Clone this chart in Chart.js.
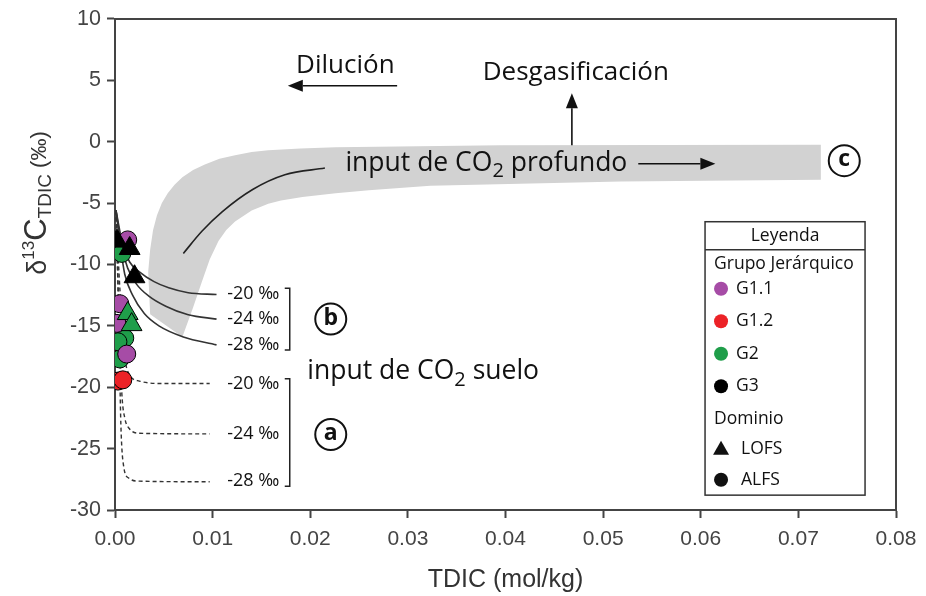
<!DOCTYPE html>
<html>
<head>
<meta charset="utf-8">
<script src="https://cdn.jsdelivr.net/npm/chart.js@4.4.0/dist/chart.umd.min.js"></script>
<style>
html,body{margin:0;padding:0;background:#fff;}
</style>
</head>
<body>
<canvas id="mycanvas" width="926" height="596"></canvas>
<script>
// samples, TDIC (mol/kg) vs d13C (permil)
var g11X = [0.0013, 0.0005, 0.0002, 0.0012];
var g11Y = [-8.0, -13.2, -14.8, -17.3];
var g12X = [0.0002, 0.0003, 0.0008];
var g12Y = [-16.8, -19.5, -19.4];
var g2X = [0.0007, 0.0010, 0.0005, 0.0003];
var g2Y = [-9.1, -16.0, -17.7, -16.3];
var g2TriX = [0.0013, 0.0017];
var g2TriY = [-14.0, -14.9];
var g3TriX = [0.0002, 0.0015, 0.0020];
var g3TriY = [-8.1, -8.7, -11.0];

// soil CO2 mixing curves (b, solid)
var b20X = [0.0001, 0.0008, 0.0015, 0.0025, 0.0040, 0.0055, 0.0075, 0.0104];
var b20Y = [-5.6, -8.4, -9.8, -10.6, -11.4, -11.9, -12.3, -12.45];
var b24X = [0.0001, 0.0007, 0.0013, 0.0022, 0.0035, 0.0052, 0.0075, 0.0104];
var b24Y = [-5.6, -8.6, -10.3, -11.6, -12.6, -13.4, -14.1, -14.45];
var b28X = [0.0001, 0.0006, 0.0010, 0.0018, 0.0030, 0.0045, 0.0070, 0.0104];
var b28Y = [-5.6, -8.8, -10.8, -12.5, -14.0, -15.0, -15.9, -16.55];
// soil CO2 curves (a, dashed)
var a20X = [0.0001, 0.0005, 0.0010, 0.0015, 0.0025, 0.0050, 0.0097];
var a20Y = [-5.6, -12.0, -17.5, -19.0, -19.5, -19.7, -19.7];
var a24X = [0.0001, 0.0004, 0.0007, 0.0010, 0.0015, 0.0025, 0.0097];
var a24Y = [-5.6, -14.0, -20.5, -22.5, -23.4, -23.75, -23.8];
var a28X = [0.0001, 0.0004, 0.0006, 0.0009, 0.0014, 0.0025, 0.0097];
var a28Y = [-5.6, -15.0, -23.0, -26.5, -27.4, -27.65, -27.7];

// deep CO2 band (outline) and its centre curve
var bandX = [0.0036, 0.0034, 0.0036, 0.0039, 0.0043, 0.0048, 0.0054, 0.0061, 0.0069, 0.0080, 0.0092, 0.0107,
             0.0123, 0.0140, 0.0157, 0.0190, 0.0226, 0.0395, 0.0723,
             0.0723, 0.0518, 0.0323, 0.0260, 0.0226, 0.0192, 0.0170, 0.0157, 0.0140, 0.0123, 0.0114,
             0.0106, 0.0097, 0.0089, 0.0080, 0.0069, 0.0036];
var bandY = [-14.05, -10.6, -8.8, -7.2, -6.0, -5.0, -4.2, -3.5, -2.9, -2.3, -1.85, -1.4,
             -1.1, -0.85, -0.7, -0.55, -0.45, -0.3, -0.25,
             -3.1, -3.25, -3.6, -3.95, -4.2, -4.5, -4.8, -5.05, -5.6, -6.5, -7.2,
             -8.1, -9.6, -11.4, -13.5, -15.9, -14.05];
var deepX = [0.0070, 0.0089, 0.0110, 0.0141, 0.0174, 0.0215];
var deepY = [-9.1, -7.3, -5.7, -3.9, -2.7, -2.15];

var xTicks = [0, 0.01, 0.02, 0.03, 0.04, 0.05, 0.06, 0.07, 0.08];
var yTicks = [10, 5, 0, -5, -10, -15, -20, -25, -30];

var purple = '#a64ca6', red = '#ec2227', green = '#1f9e4a';

function pts(xs, ys) {
	return xs.map(function(x, i) { return {x: x, y: ys[i]}; });
}
function curve(xs, ys, dashed) {
	return {
		data: pts(xs, ys), showLine: true, pointRadius: 0, borderColor: '#333',
		borderWidth: dashed ? 1.4 : 1.6, borderDash: dashed ? [4, 3] : [],
		cubicInterpolationMode: 'monotone', fill: false, order: 5
	};
}
function marks(xs, ys, color, style) {
	return {
		data: pts(xs, ys), pointStyle: style, backgroundColor: color, borderColor: '#000',
		borderWidth: 1, pointRadius: style == 'triangle' ? 12 : 9, showLine: false, order: 0
	};
}

function arrow(ctx, x1, y1, x2, y2) {
	var a = Math.atan2(y2 - y1, x2 - x1), L = 15, W = 6;
	ctx.beginPath(); ctx.moveTo(x1, y1);
	ctx.lineTo(x2 - L * Math.cos(a), y2 - L * Math.sin(a)); ctx.stroke();
	ctx.beginPath(); ctx.moveTo(x2, y2);
	ctx.lineTo(x2 - L * Math.cos(a) + W * Math.sin(a), y2 - L * Math.sin(a) - W * Math.cos(a));
	ctx.lineTo(x2 - L * Math.cos(a) - W * Math.sin(a), y2 - L * Math.sin(a) + W * Math.cos(a));
	ctx.closePath(); ctx.fill();
}
function circled(ctx, x, y, letter) {
	ctx.beginPath(); ctx.arc(x, y, 15.5, 0, Math.PI * 2);
	ctx.fillStyle = '#fff'; ctx.fill();
	ctx.lineWidth = 2; ctx.strokeStyle = '#111'; ctx.stroke();
	ctx.fillStyle = '#111'; ctx.font = 'bold 23px "Open Sans"';
	ctx.textAlign = 'center'; ctx.textBaseline = 'middle';
	ctx.fillText(letter, x, y - 1);
}
// text with subscript: parts = [[text, isSub], ...]
function subText(ctx, parts, x, y, size) {
	ctx.textAlign = 'left'; ctx.textBaseline = 'middle';
	parts.forEach(function(p) {
		ctx.font = (p[1] ? Math.round(size * 0.75) : size) + 'px "Open Sans"';
		ctx.fillText(p[0], x, p[1] ? y + size * 0.3 : y);
		x += ctx.measureText(p[0]).width;
	});
}
function bracket(ctx, x, y1, y2) {
	ctx.beginPath(); ctx.moveTo(x - 5, y1); ctx.lineTo(x, y1); ctx.lineTo(x, y2); ctx.lineTo(x - 5, y2);
	ctx.lineWidth = 1.5; ctx.strokeStyle = '#222'; ctx.stroke();
}

var notes = {
	id: 'notes',
	afterDatasetsDraw: function(chart) {
		var ctx = chart.ctx, sx = chart.scales.x, sy = chart.scales.y;
		var X = function(v) { return sx.getPixelForValue(v); };
		var Y = function(v) { return sy.getPixelForValue(v); };
		ctx.save();
		ctx.fillStyle = '#111'; ctx.strokeStyle = '#111'; ctx.lineWidth = 1.6;

		ctx.font = '26px "Open Sans"'; ctx.textAlign = 'center'; ctx.textBaseline = 'middle';
		ctx.fillText('Dilución', X(0.0236), Y(6.2));
		ctx.fillText('Desgasificación', X(0.0472), Y(5.6));
		arrow(ctx, X(0.0289), Y(4.55), X(0.0177), Y(4.55));
		arrow(ctx, X(0.0468), Y(-0.3), X(0.0468), Y(3.95));
		subText(ctx, [['input de CO', 0], ['2', 1], [' profundo', 0]], X(0.0236), Y(-1.8), 26.5);
		ctx.lineWidth = 1.6;
		arrow(ctx, X(0.0536), Y(-1.8), X(0.0615), Y(-1.8));
		subText(ctx, [['input de CO', 0], ['2', 1], [' suelo', 0]], X(0.0197), Y(-18.75), 26.5);

		ctx.font = '18px "Open Sans"'; ctx.textAlign = 'left'; ctx.textBaseline = 'middle';
		['-20 \u2030', '-24 \u2030', '-28 \u2030'].forEach(function(t, i) {
			ctx.fillText(t, X(0.0115), Y([-12.43, -14.45, -16.56][i]));
			ctx.fillText(t, X(0.0115), Y([-19.72, -23.77, -27.65][i]));
		});
		bracket(ctx, X(0.0179), Y(-11.94), Y(-16.96));
		bracket(ctx, X(0.0179), Y(-19.31), Y(-28.06));
		circled(ctx, X(0.0221), Y(-14.45), 'b');
		circled(ctx, X(0.0221), Y(-23.85), 'a');
		circled(ctx, X(0.0747), Y(-1.55), 'c');

		// legend box
		var L = X(0.06044), R = X(0.07683), T = Y(-6.52), B = Y(-28.79);
		ctx.fillStyle = '#fff'; ctx.fillRect(L, T, R - L, B - T);
		ctx.lineWidth = 1.5; ctx.strokeStyle = '#333';
		ctx.strokeRect(L, T, R - L, B - T);
		ctx.beginPath(); ctx.moveTo(L, T + 28); ctx.lineTo(R, T + 28); ctx.stroke();
		ctx.fillStyle = '#111'; ctx.font = '17.5px "Open Sans"';
		ctx.textAlign = 'center'; ctx.fillText('Leyenda', (L + R) / 2, T + 14);
		ctx.textAlign = 'left';
		ctx.fillText('Grupo Jerárquico', L + 9, T + 42);
		var items = [['G1.1', purple], ['G1.2', red], ['G2', green], ['G3', '#000']];
		items.forEach(function(it, i) {
			var yy = T + 67 + i * 32.5;
			ctx.beginPath(); ctx.arc(L + 16, yy, 7, 0, Math.PI * 2);
			ctx.fillStyle = it[1]; ctx.fill();
			ctx.fillStyle = '#111'; ctx.fillText(it[0], L + 31, yy);
		});
		ctx.fillText('Dominio', L + 9, T + 197);
		ctx.beginPath(); ctx.moveTo(L + 16, T + 219); ctx.lineTo(L + 24, T + 233); ctx.lineTo(L + 8, T + 233);
		ctx.closePath(); ctx.fill();
		ctx.fillText('LOFS', L + 36, T + 227);
		ctx.beginPath(); ctx.arc(L + 16, T + 258, 7, 0, Math.PI * 2); ctx.fill();
		ctx.fillText('ALFS', L + 36, T + 258);
		ctx.restore();
	},
	afterDraw: function(chart) {
		var ctx = chart.ctx, a = chart.chartArea;
		ctx.save();
		ctx.strokeStyle = '#444'; ctx.lineWidth = 2;
		ctx.beginPath(); ctx.moveTo(a.left, a.top); ctx.lineTo(a.right, a.top); ctx.lineTo(a.right, a.bottom); ctx.stroke();
		// axis titles
		ctx.fillStyle = '#333'; ctx.textBaseline = 'alphabetic'; ctx.textAlign = 'center';
		ctx.font = '25px "Liberation Sans"';
		ctx.fillText('TDIC (mol/kg)', (a.left + a.right) / 2, 587);
		var parts = [['\u03b4', 27, 0], ['13', 17, -12], ['C', 31, 0], ['TDIC', 19, 5], [' (\u2030)', 22, 0]];
		var w = 0;
		parts.forEach(function(p) { ctx.font = p[1] + 'px "Liberation Sans"'; w += ctx.measureText(p[0]).width; });
		ctx.translate(46, 203); ctx.rotate(-Math.PI / 2);
		ctx.textAlign = 'left';
		var x = -w / 2;
		parts.forEach(function(p) {
			ctx.font = p[1] + 'px "Liberation Sans"';
			ctx.fillText(p[0], x, p[2]);
			x += ctx.measureText(p[0]).width;
		});
		ctx.restore();
	}
};

var ctx = document.getElementById('mycanvas');
var chart = new Chart(ctx, {
	type: 'scatter',
	data: {
		datasets: [
			marks(g3TriX, g3TriY, '#000', 'triangle'),
			marks(g2TriX, g2TriY, green, 'triangle'),
			marks(g11X, g11Y, purple, 'circle'),
			marks(g2X, g2Y, green, 'circle'),
			marks(g12X, g12Y, red, 'circle'),
			curve(b20X, b20Y, false), curve(b24X, b24Y, false), curve(b28X, b28Y, false),
			curve(a20X, a20Y, true), curve(a24X, a24Y, true), curve(a28X, a28Y, true),
			{
				data: pts(deepX, deepY), showLine: true, pointRadius: 0, borderColor: '#222',
				borderWidth: 1.6, cubicInterpolationMode: 'monotone', fill: false, order: 6
			},
			{
				data: pts(bandX, bandY), showLine: true, pointRadius: 0, borderWidth: 0,
				borderColor: 'rgba(0,0,0,0)', backgroundColor: '#d2d2d2', tension: 0,
				fill: 'shape', order: 20
			}
		]
	},
	options: {
		responsive: false,
		animation: false,
		events: [],
		layout: { padding: { top: 16, right: 30, left: 0, bottom: 0 } },
		plugins: { legend: { display: false }, tooltip: { enabled: false } },
		scales: {
			x: {
				type: 'linear', min: 0, max: 0.08,
				afterFit: function(s) { s.height = 86; },
				afterBuildTicks: function(s) { s.ticks = xTicks.map(function(v) { return {value: v}; }); },
				ticks: {
					padding: 9, color: '#444', font: { family: 'Liberation Sans', size: 21 },
					callback: function(v) { return v.toFixed(2); }
				},
				grid: { drawOnChartArea: false, drawTicks: true, tickLength: 8, tickColor: '#444', tickWidth: 2 },
				border: { display: true, color: '#444', width: 2 }
			},
			y: {
				type: 'linear', min: -30, max: 10,
				afterFit: function(s) { s.width = 115; },
				afterBuildTicks: function(s) { s.ticks = yTicks.map(function(v) { return {value: v}; }); },
				ticks: { padding: 6, color: '#444', font: { family: 'Liberation Sans', size: 21.5 } },
				grid: { drawOnChartArea: false, drawTicks: true, tickLength: 8, tickColor: '#444', tickWidth: 2 },
				border: { display: true, color: '#444', width: 2 }
			}
		}
	},
	plugins: [notes]
});
</script>
</body>
</html>
